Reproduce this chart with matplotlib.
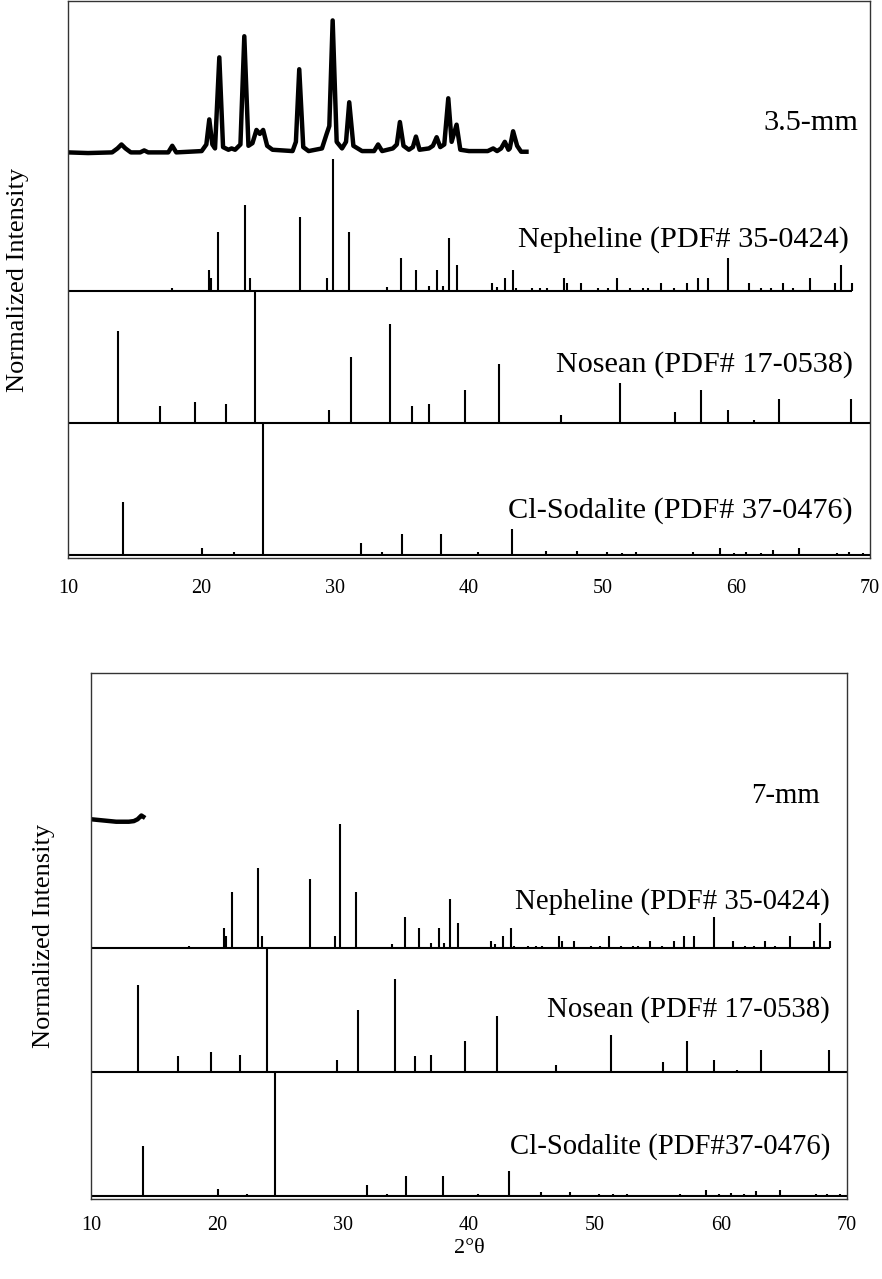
import matplotlib
matplotlib.use('Agg')
import matplotlib.pyplot as plt

plt.rcParams['font.family'] = ['Liberation Serif', 'DejaVu Serif']

# ---------------- data ----------------
# Nepheline (PDF# 35-0424): 2theta, relative intensity (%)
neph_2t = [17.75, 20.55, 20.7, 21.2, 23.24, 23.6, 27.35, 29.37, 29.8, 31.04,
           33.86, 34.9, 36.03, 37.0, 37.58, 38.05, 38.5, 39.13, 41.72, 42.1,
           42.68, 43.3, 43.55, 44.68, 45.3, 45.8, 47.12, 47.35, 48.37, 49.67,
           50.37, 51.1, 52.03, 53.03, 53.4, 54.33, 55.32, 56.3, 57.1, 57.89,
           59.41, 60.93, 61.88, 62.62, 63.5, 64.25, 65.5, 67.37, 67.82, 68.66]
neph_int = [2, 16, 10, 45, 65, 10, 56, 10, 100, 45,
            3, 25, 16, 4, 16, 4, 40, 20, 6, 3,
            10, 16, 2, 2, 2, 2, 10, 6, 6, 2,
            2, 10, 2, 2, 2, 6, 2, 6, 10, 10,
            25, 6, 2, 2, 6, 2, 10, 6, 20, 6]

# Nosean (PDF# 17-0538)
nos_2t = [13.76, 16.88, 19.52, 21.82, 23.96, 29.5, 31.17, 34.1, 35.73, 37.0,
          39.7, 42.25, 46.87, 51.29, 55.42, 57.32, 59.41, 61.3, 63.2, 68.57]
nos_int = [70, 13, 16, 14, 100, 10, 50, 75, 13, 14,
           25, 45, 6, 30, 8, 25, 10, 2, 18, 18]

# Cl-Sodalite (PDF# 37-0476)
sod_2t = [14.11, 20.05, 22.42, 24.58, 31.91, 33.49, 35.0, 37.92, 40.69, 43.2,
          45.73, 48.05, 50.34, 51.42, 52.53, 55.77, 56.77, 58.81, 59.81, 60.76,
          61.81, 62.75, 64.67, 66.62, 67.54, 68.44, 69.46]
sod_int = [40, 5.5, 2, 100, 9, 2, 16, 16, 2, 20,
           3, 3, 2, 1.5, 2, 1, 2, 5, 1.5, 2.5,
           1.5, 4, 5, 1, 1.5, 2, 1.5]

exp35_2t = [10.0, 11.5, 13.3, 13.7, 14.0, 14.3, 14.7, 15.4, 15.7, 16.0, 17.5, 17.8,
            18.1, 20.0, 20.35, 20.57, 20.8, 21.0, 21.32, 21.6, 22.0, 22.24, 22.5,
            22.9, 23.19, 23.5, 23.8, 24.1, 24.35, 24.6, 24.9, 25.3, 26.8, 27.05,
            27.3, 27.6, 28.0, 29.0, 29.35, 29.55, 29.8, 30.1, 30.5, 30.8, 31.04,
            31.35, 32.0, 32.9, 33.2, 33.5, 34.3, 34.6, 34.83, 35.1, 35.5, 35.8,
            36.03, 36.3, 37.0, 37.3, 37.58, 37.85, 38.15, 38.45, 38.7, 39.07,
            39.35, 40.0, 41.4, 41.81, 42.1, 42.4, 42.68, 42.95, 43.05, 43.3,
            43.6, 43.9, 44.3]
exp35_int = [0, -0.5, 0, 3, 6, 3, 0, 0, 1.5, 0, 0, 5,
             0, 1, 6, 25, 6, 3, 72, 4, 2, 3, 2,
             6, 88, 5, 7, 17, 14, 17, 5, 2, 1, 8,
             63, 4, 1, 3, 14, 20, 100, 8, 3, 8, 38,
             5, 1, 1, 6, 1, 3, 6, 23, 5, 2, 4,
             12, 2, 3, 5, 11.5, 4, 6, 41, 8, 21,
             2, 1, 1, 3, 1, 3, 8, 2, 3, 16,
             5, 0.5, 0.5]

# measured pattern, 7-mm sample (only the beginning is shown)
exp7_2t = [10.0, 11.0, 12.0, 13.0, 13.4, 13.7, 14.0, 14.15]
exp7_int = [0, -1, -2, -2, -1.5, 0, 3, 2]

tick_vals = [10, 20, 30, 40, 50, 60, 70]

# ---------------- figure ----------------
fig = plt.figure(figsize=(8.82, 12.79), dpi=100)
ax1 = fig.add_axes([68 / 882, 1 - 558 / 1279, 802 / 882, 557 / 1279])
ax2 = fig.add_axes([91 / 882, 1 - 1199 / 1279, 756 / 882, 526 / 1279])


def sticks(ax, xs, ys, off, x_end, lw=1.5):
    ax.vlines(xs, off, [off + v / 100 for v in ys], color='black', lw=lw)
    ax.hlines(off, 10, x_end, color='black', lw=lw)


def panel(ax, ex_x, ex_y, ex_off, sample, sample_pos, labels, label_pos,
          fs, ylim, ylab_x, tick_pad):
    ax.plot(ex_x, [ex_off + v / 100 for v in ex_y], color='black', lw=3.2,
            solid_joinstyle='round')
    sticks(ax, neph_2t, neph_int, 2, 68.66)
    sticks(ax, nos_2t, nos_int, 1, 70)
    sticks(ax, sod_2t, sod_int, 0, 70)
    ax.text(sample_pos[0], sample_pos[1], sample, ha='right', va='baseline',
            fontsize=fs)
    for lab, (x, y) in zip(labels, label_pos):
        ax.text(x, y, lab, ha='right', va='baseline', fontsize=fs)
    ax.set_xlim(10, 70)
    ax.set_ylim(*ylim)
    ax.set_xticks(tick_vals)
    ax.set_xticklabels([str(t) for t in tick_vals])
    ax.tick_params(axis='x', length=0, labelsize=14.5, pad=tick_pad)
    ax.set_yticks([])
    ax.set_ylabel('Normalized Intensity', fontsize=19)
    ax.yaxis.set_label_coords(ylab_x, 0.5)
    for s in ax.spines.values():
        s.set_linewidth(1.0)
        s.set_color('#333333')


panel(ax1, exp35_2t, exp35_int, 3.05, '3.5-mm', (69.16, 3.22),
      ['Nepheline (PDF# 35-0424)', 'Nosean (PDF# 17-0538)',
       'Cl-Sodalite (PDF# 37-0476)'],
      [(68.45, 2.333), (68.7, 1.389), (68.7, 0.286)],
      21.8, (-0.023, 4.197), -0.049, 15)

panel(ax2, exp7_2t, exp7_int, 3.04, '7-mm', (67.86, 3.17),
      ['Nepheline (PDF# 35-0424)', 'Nosean (PDF# 17-0538)',
       'Cl-Sodalite (PDF#37-0476)'],
      [(68.65, 2.32), (68.65, 1.45), (68.65, 0.344)],
      20.7, (-0.024, 4.22), -0.047, 12)

ax2.set_xlabel('2°θ', fontsize=16, labelpad=3)

fig.savefig('out.png', dpi=100)
